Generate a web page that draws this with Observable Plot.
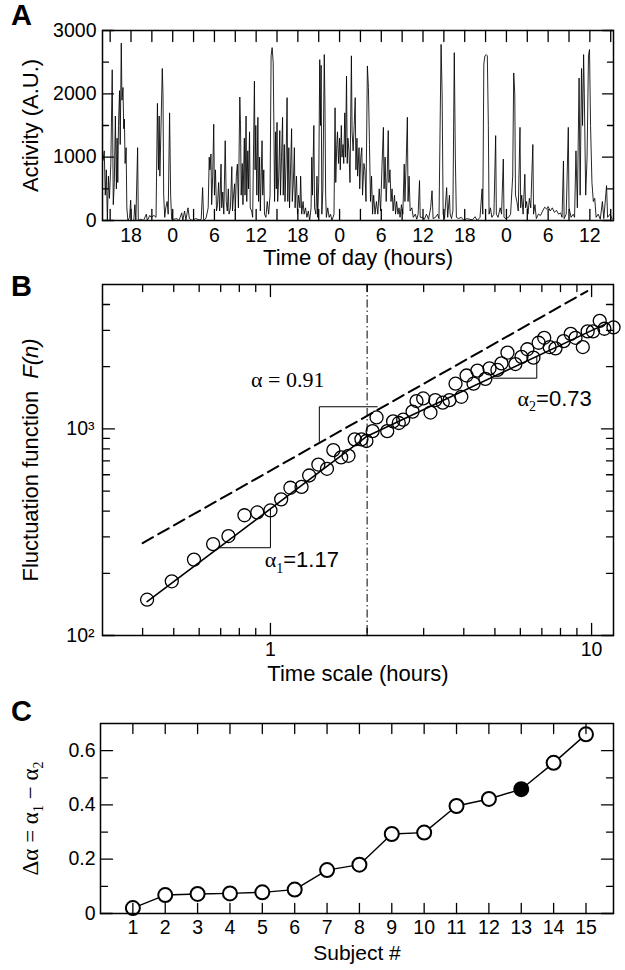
<!DOCTYPE html>
<html><head><meta charset="utf-8">
<script src="https://cdn.jsdelivr.net/npm/d3@7"></script>
<script src="https://cdn.jsdelivr.net/npm/@observablehq/plot@0.6"></script>
<style>
body{margin:0;background:#fff;}
#fig{position:relative;width:625px;height:970px;overflow:hidden;background:#fff;font-family:"Liberation Sans",Arial,Helvetica,sans-serif;}
.panel{position:absolute;left:0;}
.letter{position:absolute;left:11px;font-weight:bold;font-size:29px;line-height:29px;font-family:"Liberation Sans",Arial,sans-serif;}
</style></head><body><div id="fig"></div>
<script>
// ---------- Panel A: activity time series (hours since midnight of day 1, activity A.U.)
const activity = [
[14.0,950],[14.15,1100],[14.3,400],[14.45,800],[14.6,0],[14.75,700],[14.9,350],[15.1,900],[15.3,2380],[15.45,250],
[15.6,600],[15.75,1650],[15.9,500],[16.0,1300],[16.1,600],[16.2,1500],[16.35,2050],[16.45,1200],[16.6,2800],[16.7,1900],
[16.85,2100],[16.95,1450],[17.05,1600],[17.15,900],[17.3,1150],[17.4,200],[17.55,0],[17.8,50],[17.95,320],[18.05,0],
[18.4,0],[18.55,250],[18.7,0],[18.95,1150],[19.05,0],[19.4,20],[19.8,0],[20.2,100],[20.35,0],[20.7,80],
[20.9,50],[21.3,80],[21.6,50],[21.8,1850],[21.95,800],[22.05,1650],[22.15,700],[22.3,1400],[22.5,2400],[22.6,2000],
[22.7,400],[22.85,50],[23.0,200],[23.2,300],[23.35,100],[23.55,1700],[23.7,400],[23.85,20],[24.2,20],[24.6,30],
[24.9,0],[25.3,120],[25.45,0],[25.7,150],[25.9,10],[26.2,200],[26.4,30],[26.8,0],[27.3,30],[27.8,10],
[28.1,20],[28.3,520],[28.45,0],[28.8,40],[29.1,200],[29.25,1000],[29.35,800],[29.5,1050],[29.6,250],[29.75,700],
[29.9,1520],[30.0,400],[30.15,800],[30.3,150],[30.45,250],[30.6,600],[30.75,150],[30.95,890],[31.05,200],[31.2,450],
[31.35,100],[31.55,1260],[31.7,300],[31.85,150],[32.0,500],[32.1,100],[32.3,200],[32.5,850],[32.6,150],[32.75,400],
[32.9,580],[33.0,150],[33.15,700],[33.3,890],[33.45,200],[33.65,1950],[33.75,1520],[33.85,400],[34.0,900],[34.1,250],
[34.3,1300],[34.4,400],[34.55,1650],[34.65,300],[34.8,1100],[34.9,500],[35.05,1400],[35.15,200],[35.35,150],[35.5,50],
[35.75,2200],[35.85,800],[35.95,1500],[36.1,400],[36.25,1630],[36.35,300],[36.5,1000],[36.6,150],[36.85,1260],[36.95,400],
[37.1,800],[37.2,100],[37.4,50],[37.6,300],[37.8,100],[38.0,400],[38.15,2600],[38.3,2730],[38.45,2500],[38.55,1500],
[38.65,300],[38.8,1400],[38.9,500],[39.0,1550],[39.1,300],[39.25,700],[39.4,1420],[39.5,400],[39.65,1000],[39.8,1630],
[39.9,400],[40.05,1200],[40.15,300],[40.3,900],[40.45,1940],[40.55,300],[40.7,1150],[40.8,200],[40.95,800],[41.1,1450],
[41.2,300],[41.35,600],[41.5,1150],[41.6,200],[41.8,700],[41.95,100],[42.1,400],[42.3,200],[42.4,700],[42.55,100],
[42.75,300],[42.9,100],[43.1,200],[43.3,50],[43.5,150],[43.7,0],[43.9,200],[44.0,1000],[44.1,400],[44.3,1500],
[44.4,200],[44.6,100],[44.75,700],[44.85,50],[45.0,600],[45.15,2540],[45.25,1500],[45.35,2450],[45.45,100],[45.6,500],
[45.8,2620],[45.9,1800],[46.0,400],[46.1,50],[46.3,200],[46.5,50],[46.7,100],[46.9,0],[47.2,100],[47.35,1780],
[47.45,600],[47.6,1200],[47.7,1400],[47.85,900],[48.0,1300],[48.1,800],[48.25,1500],[48.35,1000],[48.5,1200],[48.6,900],
[48.75,1700],[48.85,1000],[49.0,2280],[49.1,900],[49.2,1300],[49.35,1100],[49.5,600],[49.7,2600],[49.8,1400],[49.95,1100],
[50.1,1500],[50.25,1940],[50.35,800],[50.5,1300],[50.6,700],[50.8,1150],[50.9,500],[51.05,1000],[51.2,1150],[51.3,400],
[51.5,900],[51.65,790],[51.8,300],[52.0,2440],[52.15,2100],[52.3,1200],[52.45,300],[52.6,700],[52.75,100],[52.9,400],
[53.1,100],[53.3,300],[53.5,100],[53.7,500],[53.9,150],[54.1,850],[54.3,1470],[54.4,500],[54.55,1000],[54.7,300],
[54.85,700],[55.0,1420],[55.1,600],[55.25,800],[55.4,300],[55.55,500],[55.7,150],[55.9,400],[56.05,100],[56.2,300],
[56.4,100],[56.55,200],[56.7,50],[56.9,250],[57.1,100],[57.3,890],[57.4,300],[57.6,1000],[57.75,1630],[57.85,300],
[58.0,700],[58.15,150],[58.4,200],[58.6,50],[58.9,100],[59.1,20],[59.3,100],[59.5,630],[59.6,50],[59.9,50],
[60.2,20],[60.5,100],[60.8,20],[61.1,200],[61.3,470],[61.45,30],[61.8,50],[62.1,100],[62.3,30],[62.6,2780],
[62.75,2000],[62.9,100],[63.1,30],[63.4,520],[63.55,50],[63.8,400],[63.9,100],[64.1,30],[64.3,150],[64.5,2650],
[64.65,1000],[64.8,50],[65.1,30],[65.5,50],[65.9,0],[66.3,30],[66.7,20],[67.1,10],[67.5,60],[67.8,0],
[68.2,50],[68.5,500],[68.6,100],[68.75,2470],[68.9,2600],[69.1,2620],[69.25,2600],[69.4,1500],[69.5,100],[69.7,200],
[69.9,50],[70.2,100],[70.45,1340],[70.55,100],[70.8,50],[71.1,200],[71.3,100],[71.55,970],[71.65,50],[71.9,30],
[72.3,50],[72.6,100],[72.9,700],[73.05,2330],[73.2,2000],[73.3,400],[73.5,300],[73.7,150],[73.95,1470],[74.05,200],
[74.2,400],[74.4,100],[74.65,730],[74.75,200],[74.9,300],[75.1,100],[75.3,350],[75.5,200],[75.8,1200],[75.9,100],
[76.1,250],[76.3,30],[76.6,100],[76.9,80],[77.2,150],[77.5,210],[77.8,180],[78.0,220],[78.3,150],[78.6,200],
[78.9,130],[79.2,160],[79.5,100],[79.8,120],[80.0,50],[80.2,940],[80.3,30],[80.6,100],[80.9,1470],[81.0,200],
[81.3,50],[81.6,100],[81.8,50],[82.0,1100],[82.2,200],[82.45,2250],[82.6,400],[82.8,2400],[82.95,1500],[83.1,2620],
[83.2,2000],[83.4,400],[83.6,1000],[83.8,2600],[83.95,2700],[84.1,1500],[84.3,600],[84.5,300],[84.7,350],[84.9,50],
[85.2,100],[85.5,20],[85.8,300],[86.0,30],[86.4,550],[86.55,50],[86.9,100],[87.2,30]
];
const hourDomain = [13.9, 87.4];
const hourTickMinor = [15,21,27,33,39,45,51,57,63,69,75,81,87];
const hourTickMajor = [18,24,30,36,42,48,54,60,66,72,78,84];
const hourTickLabels = ["18","0","6","12","18","0","6","12","18","0","6","12"];
const activityTicksMajor = [0,1000,2000,3000];
const activityTicksMinor = [500,1500,2500];

// ---------- Panel B: DFA fluctuation function
const timeScale = [0.413,0.493,0.578,0.663,0.740,0.830,0.910,1.00,1.08,1.154,1.25,1.32,1.41,1.50,1.57,1.66,1.75,1.83,1.92,1.99,
  2.08,2.14,2.31,2.41,2.51,2.59,2.77,2.85,2.99,3.15,3.26,3.44,3.61,3.77,3.93,4.08,4.29,4.41,4.67,4.81,
  5.09,5.24,5.47,5.79,6.05,6.31,6.59,6.84,7.12,7.40,7.72,8.18,8.61,8.91,9.39,9.72,10.1,10.6,10.96,11.7];
const fluctuation = [149,183,233,277,303,382,394,403,456,519,524,595,672,641,789,728,741,890,890,874,
  975,1136,975,1087,1068,1108,1213,1364,1404,1200,1378,1339,1378,1655,1430,1813,1655,1914,1747,1963,
  1929,2075,2340,2060,2232,2430,2213,2612,2760,2490,2454,2660,2884,2760,2490,2965,2965,3334,3053,3100];
const fit1 = [[0.413,146],[2.0,922]];          // alpha1 = 1.17
const fit2 = [[2.0,922],[11.2,3250]];          // alpha2 = 0.73
const dashedFit = [[0.40,280],[9.7,4650]];     // alpha = 0.91
const crossover = [2];
const tri1 = [[0.69,266],[1,266],[1,410]];
const triA = [[1.42,870],[1.42,1280],[2.15,1280]];
const tri2 = [[4.95,1760],[6.75,1760],[6.75,2240]];
const bLabels = [
  {x:0.87, y:1717, key:"alpha"},
  {x:0.96, y:231, key:"alpha1"},
  {x:5.88, y:1404, key:"alpha2"}
];
const scaleTicksMajor = [1,10];
const scaleTicksMinor = [0.4,0.5,0.6,0.7,0.8,0.9,2,3,4,5,6,7,8,9];
const fTicksMajor = [100,1000];
const fTicksMinor = [200,300,400,500,600,700,800,900,2000,3000,4000];

// ---------- Panel C: delta alpha per subject
const subjects = [1,2,3,4,5,6,7,8,9,10,11,12,13,14,15];
const deltaAlpha = [0.020,0.068,0.072,0.074,0.078,0.088,0.160,0.180,0.293,0.298,0.396,0.422,0.458,0.555,0.660];
const highlighted = [13];
const daTicksMajor = [0,0.2,0.4,0.6];
const daTicksMinor = [0.1,0.3,0.5];

// ---------- helpers
const SANS = "'Liberation Sans', Arial, Helvetica, sans-serif";
const SERIF = "'Liberation Serif', 'Times New Roman', Times, serif";
const tickShape = {draw(c, l) { c.moveTo(0, 0); c.lineTo(0, -l); }};
function xTicks(values, len, sw = 1.3) {
  return [
    Plot.vectorX(values, {x: d => d, frameAnchor: "bottom", rotate: 0, length: len, anchor: "start", shape: tickShape, stroke: "black", strokeWidth: sw}),
    Plot.vectorX(values, {x: d => d, frameAnchor: "top", rotate: 180, length: len, anchor: "start", shape: tickShape, stroke: "black", strokeWidth: sw})
  ];
}
function yTicks(values, len, sw = 1.3) {
  return [
    Plot.vectorY(values, {y: d => d, frameAnchor: "left", rotate: 90, length: len, anchor: "start", shape: tickShape, stroke: "black", strokeWidth: sw}),
    Plot.vectorY(values, {y: d => d, frameAnchor: "right", rotate: -90, length: len, anchor: "start", shape: tickShape, stroke: "black", strokeWidth: sw})
  ];
}
function rich(svg, key, parts) {
  svg.querySelectorAll("text").forEach(t => {
    if (t.textContent !== key) return;
    t.textContent = "";
    let shift = 0;
    for (const p of parts) {
      const ts = document.createElementNS("http://www.w3.org/2000/svg", "tspan");
      ts.textContent = p.t;
      if (p.font) ts.setAttribute("font-family", p.font);
      if (p.size) ts.setAttribute("font-size", p.size);
      if (p.style) ts.setAttribute("font-style", p.style);
      const target = p.sub ? (p.subShift || 5) : 0;
      if (target !== shift) { ts.setAttribute("dy", target - shift); shift = target; }
      if (p.dx) ts.setAttribute("dx", p.dx);
      t.appendChild(ts);
    }
  });
}
const baseStyle = {fontFamily: SANS, fontSize: "19.5px", color: "black", background: "transparent", overflow: "visible"};
const fig = document.getElementById("fig");
function place(svg, top) {
  svg.classList.add("panel");
  svg.style.top = top + "px";
  fig.appendChild(svg);
}
function letter(ch, top) {
  const d = document.createElement("div");
  d.className = "letter"; d.style.top = top + "px"; d.textContent = ch;
  fig.appendChild(d);
}
const xTitle = (txt, dy, size = 22) => Plot.text([txt], {frameAnchor: "bottom", dy, fontSize: size, textAnchor: "middle", lineAnchor: "middle"});
const yTitle = (txt, dx, size = 22) => Plot.text([txt], {frameAnchor: "left", dx, rotate: -90, fontSize: size, textAnchor: "middle", lineAnchor: "middle"});

// ---------- Panel A
const plotA = Plot.plot({
  width: 625, height: 275,
  marginLeft: 102, marginRight: 12, marginTop: 30, marginBottom: 55,
  style: baseStyle,
  x: {domain: hourDomain},
  y: {domain: [0, 3000]},
  marks: [
    Plot.line(activity, {x: d => d[0], y: d => d[1], stroke: "black", strokeWidth: 0.85}),
    ...xTicks(hourTickMinor, 11), ...xTicks(hourTickMajor, 11),
    ...yTicks(activityTicksMajor, 11), ...yTicks(activityTicksMinor, 6),
    Plot.frame({stroke: "black", strokeWidth: 1.5}),
    Plot.axisX(hourTickMajor, {tickSize: 0, tickPadding: 8, label: null, tickFormat: (d, i) => hourTickLabels[i]}),
    Plot.axisY(activityTicksMajor, {tickSize: 0, tickPadding: 6, label: null, tickFormat: d => String(d)}),
    xTitle("Time of day (hours)", 37),
    yTitle("Activity (A.U.)", -72)
  ]
});
place(plotA, 0);

// ---------- Panel B
const bPoints = timeScale.map((x, i) => ({x, y: fluctuation[i]}));
const plotB = Plot.plot({
  width: 625, height: 450,
  marginLeft: 102, marginRight: 12, marginTop: 34, marginBottom: 65,
  style: baseStyle,
  x: {type: "log", domain: [0.3, 11.7]},
  y: {type: "log", domain: [100, 5000]},
  marks: [
    Plot.ruleX(crossover, {stroke: "black", strokeWidth: 1, strokeDasharray: "8,3,1.5,3"}),
    Plot.line(dashedFit, {x: d => d[0], y: d => d[1], stroke: "black", strokeWidth: 2, strokeDasharray: "12,6"}),
    Plot.line(fit1, {x: d => d[0], y: d => d[1], stroke: "black", strokeWidth: 1.6}),
    Plot.line(fit2, {x: d => d[0], y: d => d[1], stroke: "black", strokeWidth: 1.6}),
    Plot.line(tri1, {x: d => d[0], y: d => d[1], stroke: "black", strokeWidth: 1}),
    Plot.line(triA, {x: d => d[0], y: d => d[1], stroke: "black", strokeWidth: 1}),
    Plot.line(tri2, {x: d => d[0], y: d => d[1], stroke: "black", strokeWidth: 1}),
    Plot.dot(bPoints, {x: "x", y: "y", r: 6.5, stroke: "black", strokeWidth: 1.3, fill: "none"}),
    ...xTicks(scaleTicksMajor, 12), ...xTicks(scaleTicksMinor, 7),
    ...yTicks(fTicksMajor, 12), ...yTicks(fTicksMinor, 7),
    Plot.frame({stroke: "black", strokeWidth: 1.5}),
    Plot.axisX(scaleTicksMajor, {tickSize: 0, tickPadding: 7, label: null, tickFormat: d => String(d)}),
    Plot.axisY(fTicksMajor, {tickSize: 0, tickPadding: 8, label: null, tickFormat: d => d === 100 ? "10\u00b2" : "10\u00b3"}),
    Plot.text(bLabels, {x: "x", y: "y", text: "key", textAnchor: "start", fontSize: 22}),
    xTitle("Time scale (hours)", 38),
    yTitle("Fluctuation function F(n)", -72)
  ]
});
rich(plotB, "alpha", [{t: "\u03b1 = 0.91", font: SERIF}]);
rich(plotB, "alpha1", [{t: "\u03b1", font: SERIF}, {t: "1", font: SERIF, size: 14, sub: true, subShift: 6}, {t: "=1.17"}]);
rich(plotB, "alpha2", [{t: "\u03b1", font: SERIF}, {t: "2", font: SERIF, size: 14, sub: true, subShift: 6}, {t: "=0.73"}]);
rich(plotB, "Fluctuation function F(n)", [{t: "Fluctuation function"}, {t: "F(n)", style: "italic", dx: 12}]);
place(plotB, 250);

// ---------- Panel C
const cPoints = subjects.map((s, i) => ({s, v: deltaAlpha[i], hi: highlighted.includes(s)}));
const plotC = Plot.plot({
  width: 625, height: 280,
  marginLeft: 100, marginRight: 12, marginTop: 33, marginBottom: 57,
  style: baseStyle,
  x: {domain: [0, 15.85]},
  y: {domain: [0, 0.7]},
  marks: [
    Plot.line(cPoints, {x: "s", y: "v", stroke: "black", strokeWidth: 1.4}),
    Plot.dot(cPoints.filter(d => !d.hi), {x: "s", y: "v", r: 7, stroke: "black", strokeWidth: 2, fill: "white"}),
    Plot.dot(cPoints.filter(d => d.hi), {x: "s", y: "v", r: 7, stroke: "black", strokeWidth: 2, fill: "black"}),
    ...xTicks(subjects, 10),
    ...yTicks(daTicksMajor, 12), ...yTicks(daTicksMinor, 7),
    Plot.frame({stroke: "black", strokeWidth: 1.5}),
    Plot.axisX(subjects, {tickSize: 0, tickPadding: 7, label: null, tickFormat: d => String(d)}),
    Plot.axisY(daTicksMajor, {tickSize: 0, tickPadding: 5, label: null, tickFormat: d => d === 0 ? "0" : d.toFixed(1)}),
    xTitle("Subject #", 40, 21),
    yTitle("DELTA_TITLE", -70, 23)
  ]
});
rich(plotC, "DELTA_TITLE", [
  {t: "\u0394\u03b1 = \u03b1", font: SERIF},
  {t: "1", font: SERIF, size: 14, sub: true, subShift: 5},
  {t: " \u2212 \u03b1", font: SERIF},
  {t: "2", font: SERIF, size: 14, sub: true, subShift: 5}
]);
place(plotC, 690);

letter("A", 1);
letter("B", 272);
letter("C", 697);
</script></body></html>
